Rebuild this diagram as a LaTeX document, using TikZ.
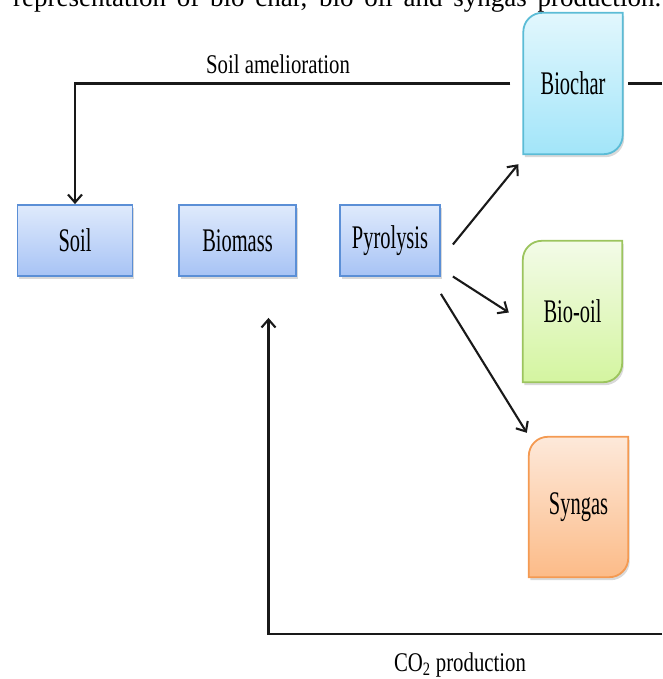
\documentclass[tikz,border=0pt]{standalone}
\usepackage{fontspec}
\setmainfont{Liberation Serif}
\newfontfamily\boxfont{Liberation Serif}[FakeStretch=0.62]
\newfontfamily\labfont{Liberation Serif}[FakeStretch=0.77]
\usetikzlibrary{arrows.meta,backgrounds,shadows}
\definecolor{boxblue}{HTML}{5B8FD6}
\definecolor{bluetop}{HTML}{DFEAFC}
\definecolor{bluebot}{HTML}{A7C3F5}
\definecolor{cyanline}{HTML}{5BBCD6}
\definecolor{cyantop}{HTML}{E2F7FD}
\definecolor{cyanbot}{HTML}{A2E5F9}
\definecolor{greenline}{HTML}{9CC45E}
\definecolor{greentop}{HTML}{F3FBE8}
\definecolor{greenbot}{HTML}{D4F5A0}
\definecolor{orangeline}{HTML}{F49A52}
\definecolor{orangetop}{HTML}{FDE9DA}
\definecolor{orangebot}{HTML}{FCBB88}
\tikzset{
  flow/.style={line width=2.1pt, draw=black!90},
  arr/.style={flow, -{Straight Barb[length=8pt,width=14pt]}},
  procbox/.style={inner sep=0pt, font=\boxfont\fontsize{33}{35}\selectfont,
    draw=boxblue, line width=1.8pt, top color=bluetop, bottom color=bluebot,
    drop shadow={shadow xshift=1.5pt,shadow yshift=-3pt,opacity=0.3}},
  prodtext/.style={inner sep=0pt, font=\boxfont\fontsize{33}{35}\selectfont},
  lab/.style={inner sep=0pt, font=\labfont\fontsize{27}{30}\selectfont}
}
\newcommand\prodshape[4]{%
  \path[draw=#4, line width=1.8pt, top color=#2, bottom color=#3,
    drop shadow={shadow xshift=1.5pt,shadow yshift=-3pt,opacity=0.3}]
    (#1.south west) -- ([yshift=-19pt]#1.north west)
    arc[start angle=180,end angle=90,radius=19pt] -- (#1.north east)
    -- ([yshift=19pt]#1.south east)
    arc[start angle=0,end angle=-90,radius=19pt] -- cycle;}
\begin{document}
\begin{tikzpicture}[x=1pt,y=1pt]
\useasboundingbox (0,0) rectangle (662,-679);
\begin{scope}
\clip (0,0) rectangle (662,-679);
\node[anchor=base west, inner sep=0pt, font=\fontsize{27}{30}\selectfont] (cap) at (13,-7)
  {\makebox[648pt][s]{representation of bio char, bio oil and syngas production.}};
\end{scope}
% process boxes
\node[procbox, minimum width=115pt, minimum height=71pt] (soil) at (75,-240.5) {Soil};
\node[procbox, minimum width=117pt, minimum height=71pt] (biomass) at (237.5,-240.5) {Biomass};
\node[procbox, minimum width=100pt, minimum height=71pt] (pyro) at (390,-240.5) {Pyrolysis};
% product boxes
\node[prodtext, minimum width=99pt, minimum height=141pt] (biochar) at (573,-83.5) {Biochar};
\node[prodtext, minimum width=99pt, minimum height=141pt] (biooil) at (572.5,-311.5) {Bio-oil};
\node[prodtext, minimum width=99pt, minimum height=140pt] (syngas) at (578.5,-507) {Syngas};
\begin{pgfonlayer}{background}
\prodshape{biochar}{cyantop}{cyanbot}{cyanline}
\prodshape{biooil}{greentop}{greenbot}{greenline}
\prodshape{syngas}{orangetop}{orangebot}{orangeline}
\end{pgfonlayer}
% soil amelioration loop
\coordinate (rtop) at (662,-83.5);
\draw[flow] (rtop) -- ([xshift=5pt]biochar.east);
\draw[arr] ([xshift=-13pt]biochar.west) -| (soil.north);
\node[lab] (amel) at (278,-64) {Soil amelioration};
% pyrolysis products
\draw[arr] ([xshift=12pt,yshift=-4pt]pyro.east) -- ([xshift=-5pt,yshift=-10pt]biochar.south west);
\draw[arr] ([xshift=12pt,yshift=-36pt]pyro.east) -- ([xshift=-14pt,yshift=-1pt]biooil.west);
\draw[arr] ([yshift=-17pt]pyro.south east) -- ([xshift=-2pt,yshift=4pt]syngas.north west);
% CO2 loop
\coordinate (rbot) at (662,-634);
\draw[arr] (rbot) -| ([xshift=31pt,yshift=-41pt]biomass.south);
\node[lab] (co2) at (460,-665) {CO\textsubscript{2} production};
\end{tikzpicture}
\end{document}
